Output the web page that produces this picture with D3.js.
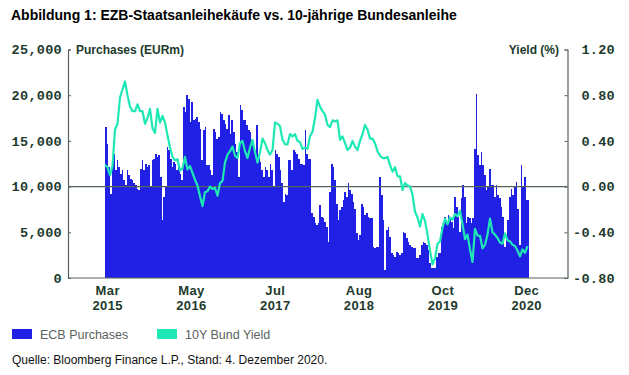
<!DOCTYPE html>
<html>
<head>
<meta charset="utf-8">
<script src="https://cdn.jsdelivr.net/npm/d3@7"></script>
<style>
  body { margin: 0; background: #fff; }
</style>
</head>
<body>
<svg id="chart"></svg>
<script>
// x labels (evenly spaced under the plot)
const xLabels = [["Mar", "2015"], ["May", "2016"], ["Jul", "2017"], ["Aug", "2018"], ["Oct", "2019"], ["Dec", "2020"]];
const leftTicks = [0, 5000, 10000, 15000, 20000, 25000];
const rightTicks = [-0.8, -0.4, 0, 0.4, 0.8, 1.2];

// ECB purchases, EURm (weekly-ish, Mar 2015 - Dec 2020)
const purchases = [
  16520, 14700, 12150, 9240, 12300, 13610, 11790, 12880, 12150, 11430,
  11790, 10700, 10150, 11790, 11240, 10880, 10700, 10340, 10150, 9790,
  9610, 11970, 12880, 11790, 12520, 12150, 12340, 9970, 12880, 13060,
  13610, 13250, 13430, 11060, 6330, 8880, 9970, 14340, 13970, 13060,
  12150, 12700, 12520, 11790, 12150, 11430, 10700, 18700, 18160, 19980,
  19620, 17070, 19250, 17250, 17430, 17610, 17070, 16340, 12880, 16160,
  16520, 12340, 12340,
  11790, 11240, 16340, 15980, 15250, 15430, 18160, 17980, 17250, 16890,
  16340, 17790, 15800, 17250, 15980, 14700, 13790, 11060, 18890, 18340,
  17250, 17250, 16700, 16160, 15980, 15070, 14340, 13610, 16700, 13430,
  12700, 11790, 11060, 12150, 11790, 11060, 12520, 11790, 9970, 13970,
  13610, 13250, 11790, 10340, 8330, 9240, 9060, 12880, 12880, 11790,
  13970, 13790, 13610, 13060, 12520, 12520, 12340, 16160, 13610, 13060,
  13060, 7060, 6700, 5970, 5790,
  5970, 7970, 6700, 6510, 6150, 5610, 3970, 9430, 12520, 12150,
  10700, 8150, 6330, 7420, 7790, 8520, 9430, 8880, 10340, 9610,
  9240, 8330, 7600, 4880, 4150, 4690, 8150, 7790, 6880, 7060,
  6700, 6510, 6510, 3420, 3240, 3420, 3420, 11060, 9060, 6330,
  870, 5240, 5610, 4510, 2690, 2510, 2330, 2870, 2690, 2510,
  2690, 5060, 4880, 4330, 3970, 3600, 3420, 3240, 3240, 2150,
  2150, 2510, 3600, 3970, 3780,
  3600, 3060, 1600, 1060, 1060, 1060, 2330, 2690, 2690, 5610,
  5970, 6700, 6000, 6880, 6510, 6150, 5420, 8880, 7790, 6700,
  5060, 8700, 10150, 8880, 5970, 6700, 6510, 5970, 6510, 14160,
  20160, 13430, 12340, 13790, 12340, 11240, 9610, 9970, 11970, 10150,
  10150, 8880, 10150, 9060, 8700, 7790, 6700, 3420, 4690, 6330,
  8880, 9790, 9060, 9970, 10520, 7600, 3600, 12340, 9970, 11060,
  8520, 8520
];

// 10Y Bund yield, %
const bundYield = [
  0.19, 0.17, 0.10, 0.18, 0.50, 0.55, 0.78, 0.85, 0.92, 0.80,
  0.70, 0.66, 0.66, 0.72, 0.66, 0.66, 0.55, 0.60, 0.68, 0.51,
  0.47, 0.68, 0.56, 0.62, 0.56, 0.45, 0.34, 0.26, 0.23, 0.24,
  0.14, 0.16, 0.26, 0.15, 0.18, 0.12, 0.06, 0.01, -0.085, -0.17,
  -0.05, -0.04,
  0.00, -0.02, -0.01, -0.08, 0.03, 0.05, 0.21, 0.28, 0.31, 0.35,
  0.27, 0.25, 0.38, 0.40, 0.31, 0.25, 0.34, 0.41, 0.30, 0.21,
  0.30, 0.42, 0.38, 0.32, 0.28, 0.32, 0.56, 0.55, 0.53, 0.41,
  0.37, 0.37, 0.46, 0.44, 0.46, 0.40, 0.39, 0.33, 0.34, 0.33,
  0.44, 0.48, 0.60, 0.76,
  0.70, 0.66, 0.63, 0.54, 0.52, 0.58, 0.57, 0.58, 0.41, 0.44,
  0.38, 0.32, 0.34, 0.40, 0.35, 0.32, 0.40, 0.46, 0.54, 0.50,
  0.42, 0.42, 0.38, 0.31, 0.27, 0.25, 0.25, 0.26, 0.19, 0.13,
  0.17, 0.09, 0.09, -0.03, 0.03, 0.01, 0.00, -0.07, -0.22, -0.27,
  -0.35, -0.24, -0.30,
  -0.42, -0.56, -0.68, -0.63, -0.50, -0.48, -0.36, -0.28, -0.33, -0.27,
  -0.29, -0.24, -0.26, -0.21, -0.33, -0.46, -0.42, -0.55, -0.66, -0.37,
  -0.43, -0.43, -0.54, -0.51, -0.42, -0.28, -0.40, -0.42, -0.45, -0.49,
  -0.50, -0.41, -0.47, -0.48, -0.51, -0.52, -0.56, -0.61, -0.55, -0.58,
  -0.52
];

const width = 629;
const height = 375;
const plot = { left: 68, right: 567.5, top: 49.5, bottom: 278 };

const barColor = "#2121e6";
const lineColor = "#1ee8b4";
const axisColor = "#56635b";
const tickColor = "#213a2c";

const svg = d3.select("#chart").attr("width", width).attr("height", height);

// Title
svg.append("text")
  .attr("x", 11).attr("y", 20)
  .style("font-family", "'Liberation Sans', Arial, sans-serif")
  .style("font-weight", 700).style("font-size", "14px")
  .attr("fill", "#000")
  .text("Abbildung 1: EZB-Staatsanleihekäufe vs. 10-jährige Bundesanleihe");

const yLeft = d3.scaleLinear().domain([0, 25000]).range([plot.bottom, plot.top]);
const yRight = d3.scaleLinear().domain([-0.8, 1.2]).range([plot.bottom, plot.top]);

const xBar = d3.scaleBand()
  .domain(d3.range(purchases.length))
  .range([105, 529])
  .padding(0);

const xLine = d3.scaleLinear()
  .domain([0, bundYield.length - 1])
  .range([105, 527.5]);

const xLab = d3.scalePoint()
  .domain(xLabels.map(d => d[0] + d[1]))
  .range([107.7, 526.7]);

// Bars
svg.append("g")
  .attr("shape-rendering", "crispEdges")
  .selectAll("rect")
  .data(purchases)
  .join("rect")
  .attr("x", (d, i) => xBar(i))
  .attr("y", d => yLeft(d))
  .attr("width", xBar.bandwidth())
  .attr("height", d => yLeft(0) - yLeft(d))
  .attr("fill", barColor);

// Zero-yield line
svg.append("line")
  .attr("x1", plot.left).attr("x2", plot.right)
  .attr("y1", yRight(0)).attr("y2", yRight(0))
  .attr("stroke", axisColor).attr("stroke-width", 1.2);

// Yield line
const line = d3.line()
  .x((d, i) => xLine(i))
  .y(d => yRight(d));

svg.append("path")
  .datum(bundYield)
  .attr("d", line)
  .attr("fill", "none")
  .attr("stroke", lineColor)
  .attr("stroke-width", 2.2)
  .attr("stroke-linejoin", "round");

// Left axis
const gl = svg.append("g")
  .attr("transform", `translate(${plot.left},0)`)
  .call(d3.axisLeft(yLeft).tickValues(leftTicks).tickSize(-3).tickPadding(6).tickFormat(d3.format(",")));

// Right axis
const gr = svg.append("g")
  .attr("transform", `translate(${plot.right},0)`)
  .call(d3.axisRight(yRight).tickValues(rightTicks).tickSize(-3).tickFormat(d => d.toFixed(2)));

gr.selectAll(".tick text").attr("x", 47.5).attr("text-anchor", "end");

[gl, gr].forEach(g => {
  g.select(".domain").attr("stroke", axisColor).attr("stroke-width", 1.2);
  g.selectAll(".tick line").attr("stroke", axisColor);
  g.selectAll(".tick text")
    .attr("fill", tickColor)
    .style("font-family", "'Liberation Mono', 'DejaVu Sans Mono', monospace")
    .style("font-weight", 700)
    .style("font-size", "13.5px")
    .style("letter-spacing", "0.3px");
});

// Bottom axis line
svg.append("line")
  .attr("x1", plot.left).attr("x2", plot.right)
  .attr("y1", plot.bottom).attr("y2", plot.bottom)
  .attr("stroke", axisColor).attr("stroke-width", 1.2);

// x labels
const xt = svg.append("g")
  .selectAll("text")
  .data(xLabels)
  .join("text")
  .attr("text-anchor", "middle")
  .attr("fill", tickColor)
  .style("font-family", "'Liberation Sans', Arial, sans-serif")
  .style("font-weight", 700)
  .style("font-size", "13px")
  .style("letter-spacing", "0.4px");

xt.append("tspan").attr("x", d => xLab(d[0] + d[1])).attr("y", 295).text(d => d[0]);
xt.append("tspan").attr("x", d => xLab(d[0] + d[1])).attr("y", 310).text(d => d[1]);

// Axis titles
svg.append("text")
  .attr("x", 76).attr("y", 53.5)
  .attr("fill", tickColor)
  .style("font-family", "'Liberation Sans', Arial, sans-serif")
  .style("font-weight", 700).style("font-size", "12px")
  .text("Purchases (EURm)");

svg.append("text")
  .attr("x", 559).attr("y", 53.5)
  .attr("text-anchor", "end")
  .attr("fill", tickColor)
  .style("font-family", "'Liberation Sans', Arial, sans-serif")
  .style("font-weight", 700).style("font-size", "12px")
  .text("Yield (%)");

// Legend
const legend = [
  { label: "ECB Purchases", color: barColor, x: 12 },
  { label: "10Y Bund Yield", color: lineColor, x: 157 }
];

const lg = svg.append("g")
  .selectAll("g")
  .data(legend)
  .join("g")
  .attr("transform", d => `translate(${d.x},329)`);

lg.append("rect").attr("width", 20).attr("height", 10).attr("fill", d => d.color);
lg.append("text")
  .attr("x", 28).attr("y", 9.5)
  .attr("fill", "#5a625d")
  .style("font-family", "'Liberation Sans', Arial, sans-serif")
  .style("font-size", "12.5px")
  .text(d => d.label);

// Source
svg.append("text")
  .attr("x", 12).attr("y", 364)
  .attr("fill", "#111")
  .style("font-family", "'Liberation Sans', Arial, sans-serif")
  .style("font-size", "12px")
  .text("Quelle: Bloomberg Finance L.P., Stand: 4. Dezember 2020.");
</script>
</body>
</html>
